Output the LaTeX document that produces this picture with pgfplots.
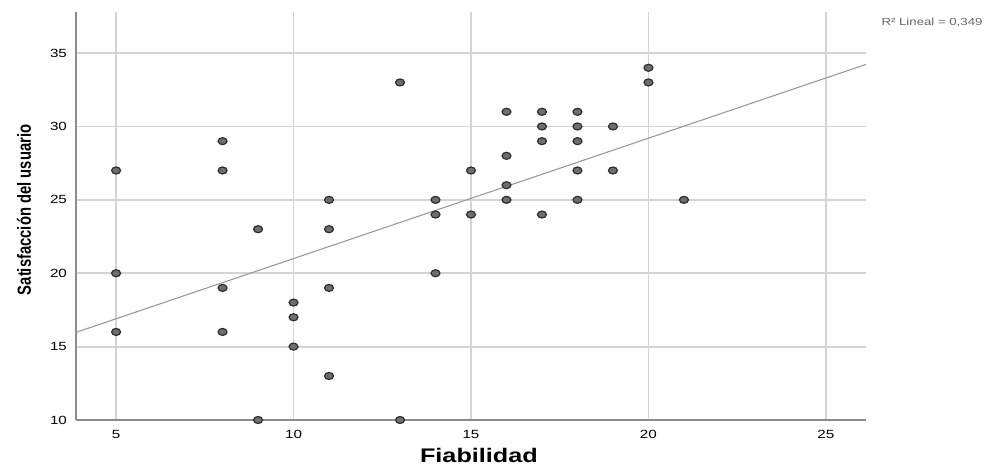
\documentclass[border=0pt]{standalone}
\usepackage{pgfplots}
\pgfplotsset{compat=1.18}
\usepackage{fontspec}
\setmainfont{Liberation Sans}
\definecolor{gridc}{HTML}{D4D4D4}
\definecolor{axisc}{HTML}{8C8C8C}
\definecolor{markfill}{HTML}{6E6E6E}
\definecolor{markdraw}{HTML}{2E2E2E}
\definecolor{fitc}{HTML}{9A9A9A}
\begin{document}
\begin{tikzpicture}
\useasboundingbox (-38pt,-25pt) rectangle (454.5pt,210pt);
\begin{axis}[
    scale only axis,
    width=395pt, height=204pt,
    xmin=3.87, xmax=26.13,
    ymin=10, ymax=37.8,
    xtick={5,10,15,20,25},
    ytick={10,15,20,25,30,35},
    axis lines=left,
    axis line style={-, draw=axisc, line width=1pt},
    major tick length=0pt,
    grid=major,
    major grid style={draw=gridc, line width=0.9pt},
    ticklabel style={font=\fontsize{7.6}{8}\selectfont},
    xticklabel={\scalebox{1}[0.78]{\pgfmathprintnumber[assume math mode=true]{\tick}}},
    yticklabel={\scalebox{1}[0.78]{\pgfmathprintnumber[assume math mode=true]{\tick}}},
    xticklabel style={yshift=-1.5pt},
    yticklabel style={xshift=-1pt},
    xlabel={\scalebox{1}[0.78]{\fontsize{12.6}{14}\selectfont\bfseries Fiabilidad}},
    xlabel style={at={(axis description cs:0.51,0)}, anchor=base, yshift=-21.5pt},
    ylabel={\scalebox{0.78}[1]{\fontsize{9.5}{11}\selectfont\bfseries Satisfacción del usuario}},
    ylabel style={at={([xshift=-26pt]axis description cs:0,0.515)}, anchor=center},
]
\addplot[only marks, mark=*, mark size=1.75pt,
    mark options={xscale=1.28, fill=markfill, draw=markdraw, line width=0.6pt}]
coordinates {
    (5,27) (5,20) (5,16)
    (8,29) (8,27) (8,19) (8,16)
    (9,23) (9,10)
    (10,18) (10,17) (10,15)
    (11,25) (11,23) (11,19) (11,13)
    (13,33) (13,10)
    (14,25) (14,24) (14,20)
    (15,27) (15,24)
    (16,31) (16,28) (16,26) (16,25)
    (17,31) (17,30) (17,29) (17,24)
    (18,31) (18,30) (18,29) (18,27) (18,25)
    (19,30) (19,27)
    (20,34) (20,33)
    (21,25)
};
\addplot[no marks, draw=fitc, line width=0.55pt] coordinates {
    (3.87,15.97) (26.13,34.23)
};
\end{axis}
\node[text=black!60, font=\fontsize{6.6}{8}\selectfont] at (428pt,199pt)
    {\scalebox{1}[0.78]{R² Lineal = 0,349}};
\end{tikzpicture}
\end{document}
